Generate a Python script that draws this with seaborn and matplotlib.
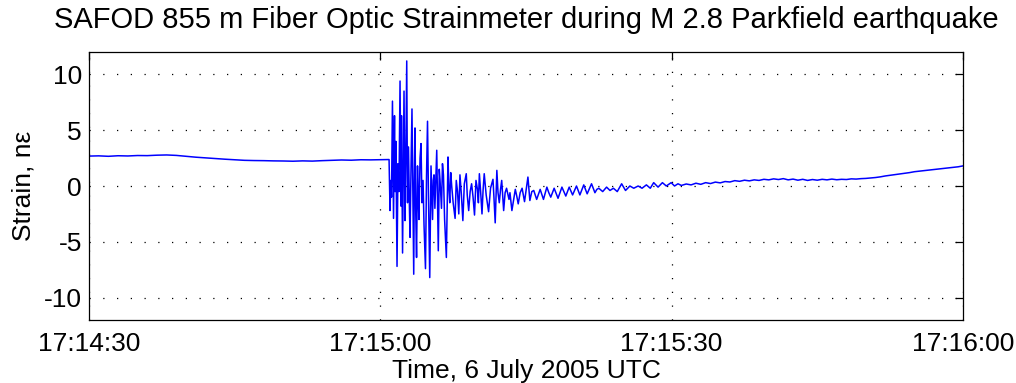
import matplotlib
matplotlib.use("Agg")
import matplotlib.pyplot as plt
import matplotlib.dates as mdates
import pandas as pd
import seaborn as sns

# ---------------- Data (seconds after 17:14:30 UTC, strain in nano-strain) ----------------
t0 = pd.Timestamp("2005-07-06 17:14:30")

# quiet part before the arrivals
pre_t = [0, 1, 2, 3, 4, 5, 6, 7, 8, 9, 10, 11, 12, 13, 14, 15, 16, 17, 18, 19,
         20, 21, 22, 23, 24, 25, 26, 27, 28, 29, 30, 30.9]
pre_v = [2.68, 2.70, 2.66, 2.71, 2.69, 2.73, 2.72, 2.76, 2.78, 2.74, 2.66, 2.58,
         2.52, 2.46, 2.40, 2.35, 2.30, 2.28, 2.27, 2.25, 2.24, 2.22, 2.25, 2.23,
         2.27, 2.30, 2.33, 2.31, 2.35, 2.34, 2.36, 2.37]

# strong shaking (time, strain)
shaking = [
    (31.00, -2.2), (31.08, 0.5), (31.15, -1.0), (31.25, 7.6), (31.36, -2.9),
    (31.46, 6.3), (31.52, -0.5), (31.60, 4.0), (31.72, -7.2), (31.82, 2.0),
    (31.92, -0.5), (32.03, 9.4), (32.13, -1.8), (32.18, 6.3), (32.29, -6.0),
    (32.44, 8.5), (32.54, -3.1), (32.62, 2.0), (32.72, 11.2), (32.80, -1.5),
    (32.90, 3.5), (33.00, -2.0), (33.06, -4.6), (33.16, 1.5), (33.26, 6.9),
    (33.35, -1.0), (33.44, -7.9), (33.50, 0.5), (33.57, 5.2), (33.65, -2.5),
    (33.73, -6.4), (33.83, 1.8), (33.90, -1.0), (33.98, -3.0), (34.09, 2.5),
    (34.19, 3.8), (34.29, -1.5), (34.40, 0.5), (34.50, -3.5), (34.65, -7.4),
    (34.76, 1.0), (34.86, 5.8), (34.96, -1.0), (35.09, -8.2), (35.22, 1.8),
    (35.30, -0.5), (35.38, -3.0), (35.45, 0.5), (35.53, 1.0), (35.62, -2.0),
    (35.81, 3.2), (35.97, -5.8), (36.07, 1.5), (36.15, 0.5), (36.30, -2.0),
    (36.40, 2.0), (36.50, 1.0), (36.62, -3.0), (36.80, -6.4), (36.97, 2.6),
    (37.05, 0.0), (37.15, -1.5), (37.25, 1.2), (37.35, 0.0), (37.50, -1.5),
    (37.70, -2.9), (37.82, 0.5), (37.95, -0.5), (38.08, -2.5), (38.20, 1.0),
    (38.35, -0.8), (38.50, -3.1), (38.65, 0.2), (38.85, 1.1), (38.95, -0.8),
    (39.10, -2.2), (39.25, -0.5), (39.40, 0.2), (39.55, -1.0), (39.70, -2.6),
    (39.85, 0.5), (40.00, -0.3), (40.10, -1.5), (40.20, 1.1), (40.33, -0.5),
]

# decaying coda (time, strain)
coda = [
    (40.47, -2.5), (40.58, -0.4), (40.70, 1.1), (40.90, -0.8), (41.15, -2.3),
    (41.35, -0.2), (41.60, 0.6), (41.70, -1.0), (41.83, -3.3), (42.00, 1.4),
    (42.12, -0.6), (42.25, -1.5), (42.38, -0.3), (42.50, 0.5), (42.70, -2.2),
    (42.85, -0.6), (43.00, -0.2), (43.25, -1.2), (43.35, -0.6), (43.55, -2.2),
    (43.90, -0.3), (44.05, -0.9), (44.20, -1.6), (44.40, -0.6), (44.60, -0.2),
    (44.85, -1.4), (45.20, 0.8), (45.40, -1.3), (45.60, -0.5), (45.80, -0.4),
    (46.10, -1.2), (46.46, -0.3), (46.80, -1.2), (47.15, -0.1), (47.35, -0.6),
    (47.55, -1.0), (47.90, -0.2), (48.30, -1.1), (48.70, -0.1), (49.10, -0.9),
    (49.45, -0.1), (49.80, -0.8), (50.20, 0.0), (50.55, -0.8), (50.95, 0.1),
    (51.30, -0.7), (51.75, 0.2), (52.10, -0.6), (52.30, -0.3), (52.50, -0.2),
    (52.90, -0.5), (53.30, -0.1), (53.65, -0.4), (54.00, -0.2), (54.40, -0.5),
    (54.85, 0.2), (55.25, -0.4), (55.70, 0.0), (56.10, -0.2), (56.55, 0.0),
    (56.95, -0.2), (57.40, 0.1), (57.80, -0.2), (58.15, 0.3), (58.60, -0.1),
    (59.05, 0.3), (59.45, 0.0), (59.95, 0.3), (60.30, 0.0), (60.65, 0.2),
]

# slow recovery afterwards
post_t = [61.0, 61.5, 62.0, 62.5, 63.0, 63.5, 64.0, 64.5, 65.0, 65.5,
          66.0, 66.5, 67.0, 67.5, 68.0, 68.5, 69.0, 69.5, 70.0, 70.5,
          71.0, 71.5, 72.0, 72.5, 73.0, 73.5, 74.0, 74.5, 75.0, 75.5,
          76.0, 76.5, 77.0, 77.5, 78.0, 78.5, 79.0, 79.5, 80.0, 80.5,
          81.0, 81.5, 82.0, 82.5, 83.0, 83.5, 84.0, 84.5, 85.0, 85.5,
          86.0, 86.5, 87.0, 87.5, 88.0, 88.5, 89.0, 89.5, 90.0]
post_v = [0.05, 0.18, 0.10, 0.25, 0.15, 0.30, 0.22, 0.35, 0.28, 0.40,
          0.36, 0.48, 0.42, 0.52, 0.46, 0.55, 0.50, 0.60, 0.55, 0.64,
          0.58, 0.66, 0.55, 0.62, 0.52, 0.60, 0.50, 0.58, 0.52, 0.60,
          0.55, 0.62, 0.56, 0.60, 0.58, 0.64, 0.62, 0.66, 0.68, 0.72,
          0.76, 0.82, 0.90, 0.96, 1.02, 1.08, 1.14, 1.20, 1.28, 1.33,
          1.38, 1.42, 1.48, 1.52, 1.58, 1.62, 1.68, 1.72, 1.80]

secs = pre_t + [p[0] for p in shaking] + [p[0] for p in coda] + post_t
strain = pre_v + [p[1] for p in shaking] + [p[1] for p in coda] + post_v
df = pd.DataFrame({"time": t0 + pd.to_timedelta(secs, unit="s"), "strain": strain})

# ---------------- Plot ----------------
sns.set_theme(style="white")
plt.rcParams['font.family'] = ['Liberation Sans', 'DejaVu Sans']
plt.rcParams['axes.unicode_minus'] = False
plt.rcParams['text.color'] = 'black'
plt.rcParams['axes.labelcolor'] = 'black'

fig = plt.figure(figsize=(10.16, 3.83), dpi=100)
ax = fig.add_axes([0.0876, 0.1645, 0.8602, 0.6997])

sns.lineplot(data=df, x="time", y="strain", color="#0000ff", linewidth=1.1,
             estimator=None, sort=False, ax=ax)

ax.set_xlim(t0, t0 + pd.Timedelta(seconds=90))
ax.set_ylim(-12, 12)
ax.set_xticks([t0 + pd.Timedelta(seconds=s) for s in [0, 30, 60, 90]])
ax.xaxis.set_major_formatter(mdates.DateFormatter("%H:%M:%S"))
ax.set_yticks([-10, -5, 0, 5, 10])

ax.grid(True, color="black", linestyle=(0, (1, 10)), linewidth=0.9)
for s in ax.spines.values():
    s.set_color("black")
    s.set_linewidth(0.9)
ax.tick_params(direction="in", length=6, width=0.9, top=True, right=True,
               labelsize=19, colors="black", pad=9)
ax.tick_params(axis="y", pad=5)

ax.set_title("SAFOD 855 m Fiber Optic Strainmeter during M 2.8 Parkfield earthquake",
             fontsize=21, pad=17, color="black")
ax.set_xlabel("Time, 6 July 2005 UTC", fontsize=19)
ax.xaxis.set_label_coords(0.5, -0.145)
ax.set_ylabel("Strain, n\u03b5", fontsize=19, labelpad=6)

fig.savefig("out.png", dpi=100)
